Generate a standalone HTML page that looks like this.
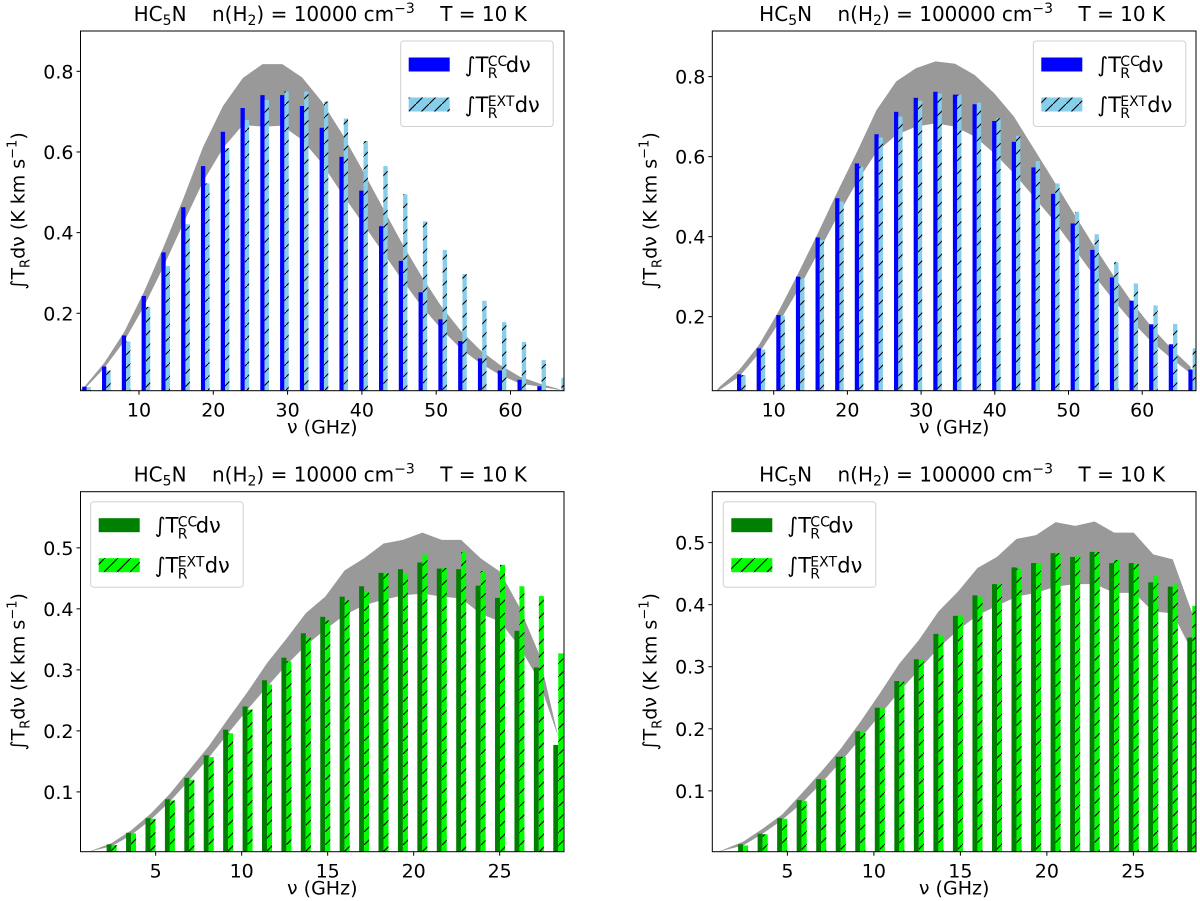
<!DOCTYPE html>
<html><head><meta charset="utf-8"><style>
html,body{margin:0;padding:0;background:#fff;}
svg{display:block;font-family:"DejaVu Sans","Liberation Sans",sans-serif;}
</style></head><body>
<svg id="fig" width="1200" height="901" viewBox="0 0 1200 901" xmlns="http://www.w3.org/2000/svg">
<defs>
<pattern id="hatch" patternUnits="userSpaceOnUse" width="13" height="13">
<line x1="0" y1="13" x2="13" y2="0" stroke="#000" stroke-width="1.1"/>
</pattern>
</defs>
</svg>
<script>
// ---------- data ----------
const topLines = [1,2,3,4,5,6,7,8,9,10,11,12,13,14,15,16,17,18,19,20,21,22,23,24,25];
const botLines = [0,1,2,3,4,5,6,7,8,9,10,11,12,13,14,15,16,17,18,19,20,21,22,23];
const topXTicks = [10,20,30,40,50,60];
const topYTicks = [0.2,0.4,0.6,0.8];
const botXTicks = [5,10,15,20,25];
const botYTicks = [0.1,0.2,0.3,0.4,0.5];

// top-left (n=1e4)
const tlCC  = [0.018,0.068,0.145,0.243,0.351,0.463,0.565,0.650,0.709,0.741,0.741,0.714,0.660,0.588,0.504,0.416,0.330,0.252,0.185,0.131,0.088,0.058,0.035,0.019,0.008];
const tlEXT = [0.017,0.058,0.130,0.216,0.317,0.421,0.522,0.609,0.679,0.729,0.750,0.750,0.725,0.683,0.627,0.565,0.495,0.428,0.357,0.297,0.231,0.178,0.129,0.084,0.040];
const tlUp  = [0.018,0.077,0.153,0.252,0.365,0.485,0.613,0.714,0.783,0.818,0.818,0.785,0.725,0.647,0.560,0.469,0.378,0.295,0.220,0.158,0.109,0.072,0.043,0.026,0.012];
const tlLo  = [0.012,0.064,0.130,0.216,0.316,0.423,0.527,0.609,0.667,0.663,0.665,0.630,0.572,0.498,0.428,0.357,0.287,0.220,0.163,0.113,0.076,0.047,0.026,0.018,0.010];

// top-right (n=1e5), J=1 not observed
const trCC  = [null,0.056,0.121,0.204,0.300,0.398,0.496,0.583,0.656,0.712,0.747,0.762,0.755,0.731,0.689,0.637,0.573,0.507,0.433,0.367,0.298,0.240,0.181,0.131,0.068];
const trEXT = [null,0.054,0.118,0.202,0.296,0.392,0.488,0.575,0.648,0.700,0.740,0.758,0.755,0.735,0.696,0.652,0.589,0.533,0.462,0.406,0.336,0.283,0.228,0.182,0.121];
const trUp  = [0.025,0.067,0.129,0.213,0.308,0.408,0.512,0.612,0.717,0.788,0.821,0.838,0.832,0.804,0.758,0.700,0.621,0.542,0.462,0.383,0.308,0.237,0.175,0.121,0.075];
const trLo  = [0.017,0.050,0.108,0.183,0.267,0.358,0.450,0.537,0.612,0.654,0.675,0.683,0.675,0.650,0.608,0.558,0.500,0.442,0.375,0.308,0.246,0.188,0.138,0.096,0.058];

// bottom-left (n=1e4)
const blCC  = [0.014,0.033,0.057,0.088,0.123,0.160,0.202,0.240,0.283,0.320,0.360,0.387,0.420,0.437,0.459,0.465,0.476,0.466,0.465,0.438,0.418,0.364,0.304,0.177];
const blEXT = [0.013,0.032,0.056,0.086,0.120,0.157,0.196,0.235,0.276,0.314,0.353,0.381,0.414,0.429,0.459,0.457,0.489,0.467,0.493,0.462,0.472,0.437,0.421,0.327];
const blUp  = [0.016,0.037,0.064,0.097,0.136,0.175,0.220,0.264,0.311,0.351,0.393,0.420,0.463,0.483,0.507,0.513,0.525,0.513,0.513,0.483,0.461,0.403,0.327,0.190];
const blLo  = [0.011,0.029,0.054,0.084,0.119,0.156,0.196,0.235,0.272,0.308,0.340,0.366,0.390,0.406,0.415,0.422,0.425,0.420,0.417,0.392,0.379,0.338,0.283,0.190];

// bottom-right (n=1e5)
const brCC  = [0.014,0.031,0.056,0.085,0.119,0.155,0.196,0.234,0.277,0.312,0.353,0.382,0.415,0.433,0.460,0.467,0.483,0.477,0.485,0.467,0.467,0.436,0.429,0.347];
const brEXT = [0.012,0.030,0.055,0.084,0.118,0.155,0.195,0.233,0.276,0.312,0.350,0.382,0.413,0.433,0.458,0.467,0.483,0.478,0.485,0.472,0.466,0.446,0.433,0.398];
const brUp  = [0.018,0.039,0.062,0.096,0.131,0.168,0.211,0.257,0.305,0.343,0.389,0.421,0.459,0.477,0.506,0.512,0.533,0.527,0.534,0.516,0.516,0.481,0.473,0.386];
const brLo  = [0.012,0.031,0.053,0.080,0.112,0.147,0.184,0.222,0.260,0.295,0.330,0.359,0.383,0.398,0.413,0.419,0.429,0.433,0.433,0.419,0.419,0.389,0.386,0.324];

const NS = "http://www.w3.org/2000/svg";
const fig = document.getElementById('fig');
function mk(tag, attrs, parent){
  const e = document.createElementNS(NS, tag);
  for (const k in attrs) e.setAttribute(k, attrs[k]);
  (parent||fig).appendChild(e);
  return e;
}

function panel(p){
  const g = mk('g', {});
  
  
  const X = v => p.x0 + (v - p.xmin) / (p.xmax - p.xmin) * (p.x1 - p.x0);
  const Y = v => p.y1 - (v - p.ymin) / (p.ymax - p.ymin) * (p.y1 - p.y0);
  const clipId = 'clip-' + p.name;
  const cp = mk('clipPath', {id: clipId}, g);
  mk('rect', {x:p.x0, y:p.y0, width:p.x1-p.x0, height:p.y1-p.y0}, cp);
  const plot = mk('g', {'clip-path':'url(#'+clipId+')'}, g);

  // band
  let pts = [[p.bandStart, p.ymin]];
  p.lines.forEach((l,i)=>pts.push([p.nu(l), p.up[i]]));
  let ptsLo = p.lines.map((l,i)=>[p.nu(l), p.lo[i]]).reverse();
  pts = pts.concat(ptsLo);
  const band = mk('polygon', {points: pts.map(q=>X(q[0]).toFixed(2)+','+Y(q[1]).toFixed(2)).join(' '), fill:'#999999', stroke:'none'}, plot);
  
  

  // bars
  p.lines.forEach((l,i)=>{
    const nu = p.nu(l);
    if (p.cc[i] != null){
      const b = mk('rect', {x:X(nu+p.off1), y:Y(p.cc[i]), width:X(nu+p.off1+p.w)-X(nu+p.off1), height:Y(p.ymin)-Y(p.cc[i]), fill:p.c1}, plot);
      
      
    }
    if (p.ext[i] != null){
      const xx = X(nu+p.off2), ww = X(nu+p.off2+p.w)-X(nu+p.off2), yy = Y(p.ext[i]), hh = Y(p.ymin)-Y(p.ext[i]);
      const b = mk('rect', {x:xx, y:yy, width:ww, height:hh, fill:p.c2}, plot);
      
      
      mk('rect', {x:xx, y:yy, width:ww, height:hh, fill:'url(#hatch)'}, plot);
    }
  });

  // frame
  const fr = mk('rect', {x:p.x0, y:p.y0, width:p.x1-p.x0, height:p.y1-p.y0, fill:'none', stroke:'#000', 'stroke-width':1}, g);
  
  

  // ticks
  p.xticks.forEach(t=>{
    const x = X(t);
    mk('line', {x1:x, y1:p.y1, x2:x, y2:p.y1+4, stroke:'#000', 'stroke-width':1}, g);
    const tx = mk('text', {x:x, y:p.y1+26, 'font-size':19, 'text-anchor':'middle', fill:'#000'}, g);
    tx.textContent = String(t);
    
    
  });
  p.yticks.forEach(t=>{
    const y = Y(t);
    mk('line', {x1:p.x0-4, y1:y, x2:p.x0, y2:y, stroke:'#000', 'stroke-width':1}, g);
    const tx = mk('text', {x:p.x0-7, y:y+7, 'font-size':19, 'text-anchor':'end', fill:'#000'}, g);
    tx.textContent = t.toFixed(1);
    
    
  });

  // x label
  const xl = mk('text', {x:(p.x0+p.x1)/2, y:p.y1+43, 'font-size':19, 'text-anchor':'middle'}, g);
  xl.textContent = 'ν (GHz)';
  
  

  // y label
  const yc = (p.y0+p.y1)/2;
  const yl = mk('text', {x:0, y:0, 'font-size':19, 'text-anchor':'middle', transform:'translate('+(p.x0-56)+','+yc+') rotate(-90)'}, g);
  yl.innerHTML = '∫T<tspan font-size="13" dy="5">R</tspan><tspan dy="-5">dν (K km s</tspan><tspan font-size="13" dy="-8">−1</tspan><tspan dy="8">)</tspan>';
  
  

  // title
  const ti = mk('text', {x:(p.x0+p.x1)/2+8, y:p.y0-10, 'font-size':20, 'text-anchor':'middle'}, g);
  ti.innerHTML = 'HC<tspan font-size="14" dy="4">5</tspan><tspan dy="-4">N    n(H</tspan><tspan font-size="14" dy="4">2</tspan><tspan dy="-4">) = '+p.dens+' cm</tspan><tspan font-size="14" dy="-8">−3</tspan><tspan dy="8">    T = 10 K</tspan>';
  ti.setAttribute('xml:space','preserve');
  ti.style.whiteSpace = 'pre';
  
  

  // legend
  const lg = mk('g', {}, g);
  
  
  const lx = p.legX, ly = p.y0 + 10;
  mk('rect', {x:lx, y:ly, width:152.5, height:85.5, rx:3, fill:'#fff', 'fill-opacity':0.8, stroke:'#d0d0d0', 'stroke-width':1}, lg);
  const e1 = mk('g', {}, lg);
  
  
  mk('rect', {x:lx+8, y:ly+16.5, width:41, height:14, fill:p.c1}, e1);
  const e2 = mk('g', {}, lg);
  
  
  mk('rect', {x:lx+8, y:ly+56.5, width:41, height:14, fill:p.c2}, e2);
  mk('rect', {x:lx+8, y:ly+56.5, width:41, height:14, fill:'url(#hatch)'}, e2);
  [[e1,'CC',ly+31],[e2,'EXT',ly+71]].forEach(([par,sup,by])=>{
    const t = mk('text', {x:lx+64, y:by, 'font-size':21}, par);
    t.textContent = '∫T';
    const sx = lx+64+23;
    const s1 = mk('text', {x:sx, y:by-6, 'font-size':14}, par);
    s1.textContent = sup;
    const s2 = mk('text', {x:sx, y:by+6, 'font-size':14}, par);
    s2.textContent = 'R';
    const w = sup === 'CC' ? 18 : 27;
    const d = mk('text', {x:sx+w, y:by, 'font-size':21}, par);
    d.textContent = 'dν';
  });
}

const nuTop = J => 2.6627*J;
const nuBot = k => 2.44 + 1.129*k;

panel({name:'panel-top-left', x0:80.5, x1:564, y0:31, y1:390.7, xmin:2.13, xmax:67.2, ymin:0.008, ymax:0.9,
  lines:topLines, nu:nuTop, cc:tlCC, ext:tlEXT, up:tlUp, lo:tlLo, bandStart:2.0,
  off1:-0.3, off2:0.28, w:0.58, c1:'#0000ff', c2:'#87ceeb', xticks:topXTicks, yticks:topYTicks,
  dens:'10000', legX:400.7});
panel({name:'panel-top-right', x0:712.3, x1:1196, y0:31, y1:390.7, xmin:1.67, xmax:67.3, ymin:0.015, ymax:0.914,
  lines:topLines, nu:nuTop, cc:trCC, ext:trEXT, up:trUp, lo:trLo, bandStart:2.2,
  off1:-0.3, off2:0.28, w:0.58, c1:'#0000ff', c2:'#87ceeb', xticks:topXTicks, yticks:topYTicks,
  dens:'100000', legX:1033.3});
panel({name:'panel-bottom-left', x0:80.5, x1:564, y0:491.7, y1:851.7, xmin:0.63, xmax:28.74, ymin:0.002, ymax:0.592,
  lines:botLines, nu:nuBot, cc:blCC, ext:blEXT, up:blUp, lo:blLo, bandStart:1.1,
  off1:-0.29, off2:0, w:0.29, c1:'#008000', c2:'#00ff00', xticks:botXTicks, yticks:botYTicks,
  dens:'10000', legX:90.7});
panel({name:'panel-bottom-right', x0:712.3, x1:1196, y0:491.7, y1:851.7, xmin:0.66, xmax:28.62, ymin:0.002, ymax:0.582,
  lines:botLines, nu:nuBot, cc:brCC, ext:brEXT, up:brUp, lo:brLo, bandStart:1.0,
  off1:-0.29, off2:0, w:0.29, c1:'#008000', c2:'#00ff00', xticks:botXTicks, yticks:botYTicks,
  dens:'100000', legX:723.3});
</script>
</body></html>
